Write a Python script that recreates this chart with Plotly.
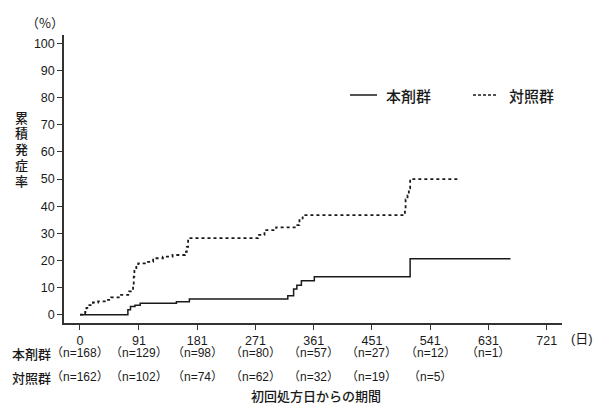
import plotly.graph_objects as go

# ---- data ----
drug_days = [0, 74, 78, 85, 93, 149, 169, 321, 330, 335, 342, 362, 510, 665]
drug_pct = [0, 1.8, 3.0, 3.5, 4.2, 4.8, 5.8, 7.0, 9.5, 10.9, 12.5, 14.0, 20.6, 20.6]

ctrl_days = [0, 8, 10, 13, 20, 28, 40, 48, 62, 76, 80, 82, 83, 84, 87, 90, 103, 113,
             128, 143, 162, 165, 167, 275, 285, 303, 334, 339, 344, 502, 503, 506,
             508, 510, 583]
ctrl_pct = [0, 1, 2.5, 3.5, 4.5, 4.9, 5.5, 6.4, 7.3, 8.6, 9.5, 10.3, 14, 16.5, 18,
            18.9, 19.5, 20.8, 21.4, 22, 23.2, 25, 28.2, 29.4, 31.2, 32.2, 33, 35.5,
            36.7, 38.5, 42.5, 44, 46.6, 50, 50]

x_ticks = [0, 91, 181, 271, 361, 451, 541, 631, 721]
y_ticks = [0, 10, 20, 30, 40, 50, 60, 70, 80, 90, 100]

drug_n_days = [0, 91, 181, 271, 361, 451, 541, 631]
drug_n = [168, 129, 98, 80, 57, 27, 12, 1]
ctrl_n_days = [0, 91, 181, 271, 361, 451, 541]
ctrl_n = [162, 102, 74, 62, 32, 19, 5]

series_names = ["本剤群", "対照群"]
y_title = "累積発症率"

# ---- layout constants ----
W, H = 597, 406
ML, MR, MT, MB = 64, 35, 35, 83
PW, PH = W - ML - MR, H - MT - MB
LATIN = "Liberation Sans, Arial, Noto Sans CJK JP, sans-serif"
CJK = "Noto Sans CJK JP, sans-serif"
INK = "#1a1a1a"


def px_x(p):
    return (p - ML) / PW


def px_y(p):
    return (H - MB - p) / PH


fig = go.Figure()
fig.add_trace(go.Scatter(x=drug_days, y=drug_pct, mode="lines", line_shape="hv",
                         line=dict(color=INK, width=1.5), name=series_names[0],
                         showlegend=False))
fig.add_trace(go.Scatter(x=ctrl_days, y=ctrl_pct, mode="lines", line_shape="hv",
                         line=dict(color=INK, width=1.8, dash="3px,3px"),
                         name=series_names[1], showlegend=False))

ann = []
# risk table
for d, n in zip(drug_n_days, drug_n):
    ann.append(dict(x=d, xref="x", y=px_y(353), yref="paper", text=f"（n={n}）",
                    showarrow=False, xanchor="center", yanchor="middle",
                    font=dict(family=LATIN, size=12, color=INK)))
for d, n in zip(ctrl_n_days, ctrl_n):
    ann.append(dict(x=d, xref="x", y=px_y(377), yref="paper", text=f"（n={n}）",
                    showarrow=False, xanchor="center", yanchor="middle",
                    font=dict(family=LATIN, size=12, color=INK)))
for name, yy in zip(series_names, [353, 377]):
    ann.append(dict(x=px_x(10), xref="paper", y=px_y(yy), yref="paper", text=name,
                    showarrow=False, xanchor="left", yanchor="middle",
                    font=dict(family=CJK, size=13, color=INK, weight=500)))

# axis titles / units
ann.append(dict(x=px_x(316), xref="paper", y=px_y(395), yref="paper",
                text="初回処方日からの期間", showarrow=False, xanchor="center",
                yanchor="middle", font=dict(family=CJK, size=13, color=INK, weight=500)))
ann.append(dict(x=px_x(582), xref="paper", y=px_y(338), yref="paper",
                text="(日)", showarrow=False, xanchor="center", yanchor="middle",
                font=dict(family=LATIN, size=13, color=INK)))
ann.append(dict(x=px_x(45), xref="paper", y=px_y(22), yref="paper",
                text="（%）", showarrow=False, xanchor="center", yanchor="middle",
                font=dict(family=CJK, size=13, color=INK)))
for i, ch in enumerate(y_title):
    ann.append(dict(x=px_x(21.5), xref="paper", y=px_y(117 + 15.75 * i), yref="paper",
                    text=ch, showarrow=False, xanchor="center", yanchor="middle",
                    height=15, borderpad=0,
                    font=dict(family=CJK, size=13, color=INK, weight=500)))

# legend (custom)
shapes = [
    dict(type="line", xref="paper", yref="paper", x0=px_x(350), x1=px_x(377),
         y0=px_y(95), y1=px_y(95), line=dict(color=INK, width=1.5)),
    dict(type="line", xref="paper", yref="paper", x0=px_x(473), x1=px_x(498),
         y0=px_y(95), y1=px_y(95), line=dict(color=INK, width=1.5, dash="3px,2px")),
]
ann.append(dict(x=px_x(384), xref="paper", y=px_y(95), yref="paper",
                text=series_names[0], showarrow=False, xanchor="left",
                yanchor="middle", font=dict(family=CJK, size=15, color=INK, weight=500)))
ann.append(dict(x=px_x(507), xref="paper", y=px_y(95), yref="paper",
                text=series_names[1], showarrow=False, xanchor="left",
                yanchor="middle", font=dict(family=CJK, size=15, color=INK, weight=500)))

fig.update_layout(
    width=W, height=H,
    margin=dict(l=ML, r=MR, t=MT, b=MB, pad=0),
    paper_bgcolor="white", plot_bgcolor="white",
    annotations=ann, shapes=shapes,
    font=dict(family=LATIN, color=INK),
)
fig.update_xaxes(range=[-24.7, 744.6], tickvals=x_ticks, ticks="outside", ticklen=5,
                 tickwidth=1.2, tickcolor="#333", showline=True, linecolor="#333",
                 linewidth=1.5, showgrid=False, zeroline=False,
                 tickfont=dict(family=LATIN, size=12.5, color=INK))
fig.update_yaxes(range=[-3.06, 103.1], tickvals=y_ticks, ticks="outside", ticklen=5,
                 tickwidth=1.2, tickcolor="#333", showline=True, linecolor="#333",
                 linewidth=1.5, showgrid=False, zeroline=False,
                 tickfont=dict(family=LATIN, size=12.5, color=INK))

fig.write_html(
    "out.html",
    config={"displayModeBar": False},
    post_script="document.body.style.margin='0';document.body.style.overflow='hidden';",
)
